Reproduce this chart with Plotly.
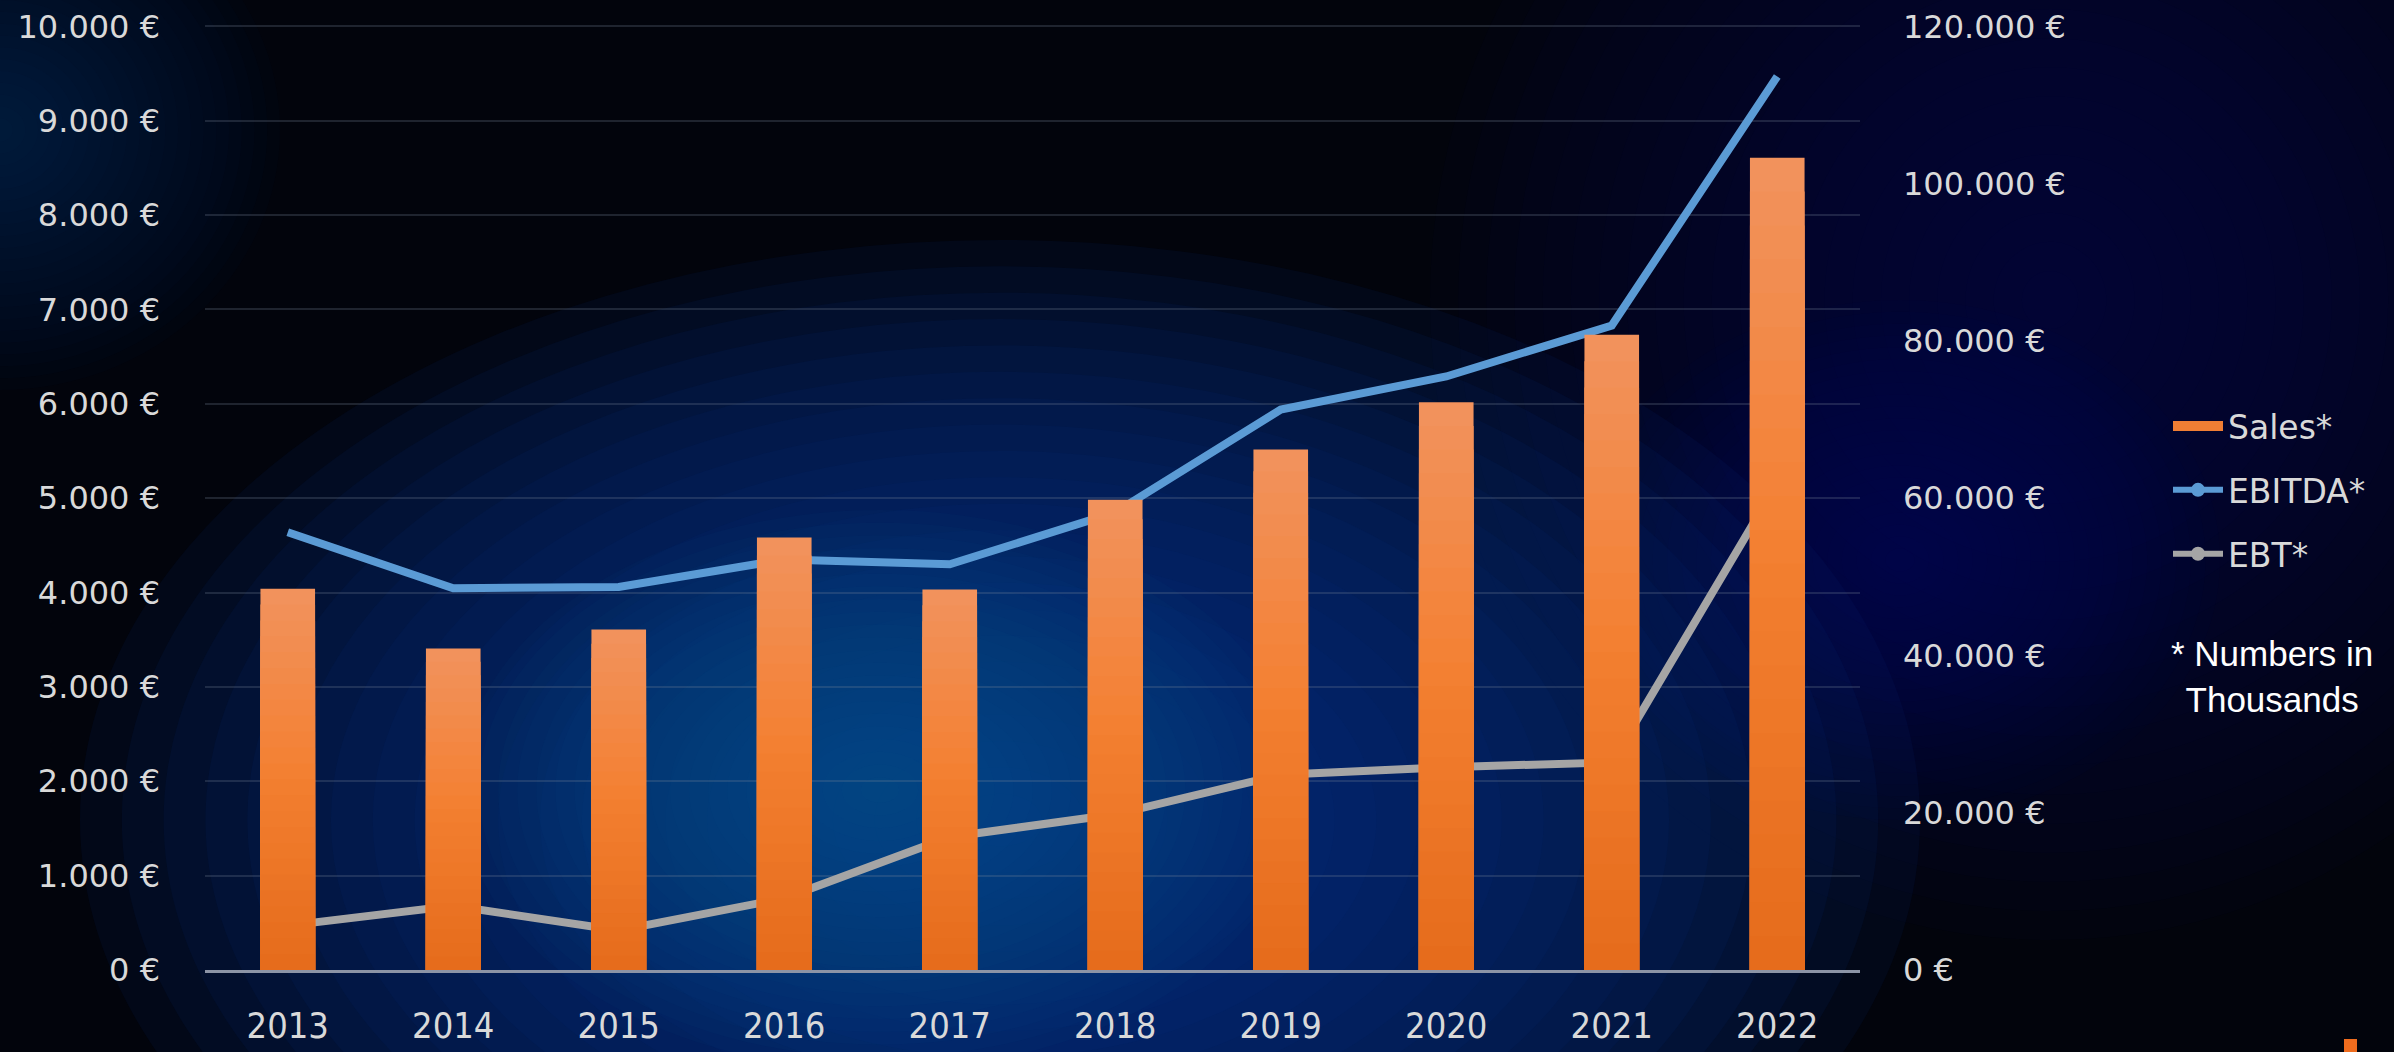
import plotly.graph_objects as go

years = ["2013", "2014", "2015", "2016", "2017", "2018", "2019", "2020", "2021", "2022"]
sales = [48500, 40900, 43300, 55000, 48400, 59800, 66200, 72200, 80800, 103300]
ebitda = [4640, 4045, 4060, 4350, 4300, 4850, 5940, 6290, 6830, 9470]
ebt = [470, 680, 420, 760, 1410, 1650, 2070, 2150, 2200, 5160]

left_ticks = [0, 1000, 2000, 3000, 4000, 5000, 6000, 7000, 8000, 9000, 10000]
left_labels = ["0 €", "1.000 €", "2.000 €", "3.000 €", "4.000 €", "5.000 €",
               "6.000 €", "7.000 €", "8.000 €", "9.000 €", "10.000 €"]
right_ticks = [0, 20000, 40000, 60000, 80000, 100000, 120000]
right_labels = ["0 €", "20.000 €", "40.000 €", "60.000 €", "80.000 €", "100.000 €", "120.000 €"]

W, H = 2394, 1052
ML, MR, MT, MB = 205, 534, 25, 82
PW, PH = W - ML - MR, H - MT - MB


def px_x(x):
    return (x - ML) / PW


def px_y(y):
    return (H - MB - y) / PH


def lerp_color(c1, c2, t):
    a = [int(c1[i:i + 2], 16) for i in (1, 3, 5)]
    b = [int(c2[i:i + 2], 16) for i in (1, 3, 5)]
    return "#%02x%02x%02x" % tuple(round(a[i] + (b[i] - a[i]) * t) for i in range(3))


def bar_color(f):
    # f = 0 bottom, 1 top
    if f < 0.5:
        return lerp_color("#E56B1B", "#F37F30", f / 0.5)
    return lerp_color("#F37F30", "#F2935E", (f - 0.5) / 0.5)


fig = go.Figure()

# Sales bars drawn as overlaid steps to emulate a vertical gradient
N = 24
for k in range(N, 0, -1):
    f = k / N
    fig.add_trace(go.Bar(
        x=years, y=[v * f for v in sales], yaxis="y2", width=0.33,
        marker=dict(color=bar_color(f - 0.5 / N), line=dict(width=0)),
        showlegend=False, hoverinfo="skip" if k < N else None,
        name="Sales*",
    ))

fig.add_trace(go.Scatter(
    x=years, y=ebitda, mode="lines", name="EBITDA*", showlegend=False,
    line=dict(color="#5B9BD5", width=8),
))
fig.add_trace(go.Scatter(
    x=years, y=ebt, mode="lines", name="EBT*", showlegend=False,
    line=dict(color="#A5A5A5", width=8),
))

# legend entries
fig.add_trace(go.Scatter(
    x=[None], y=[None], mode="lines", name="Sales*",
    line=dict(color="#F07E34", width=18), legendgroup="a",
))
fig.add_trace(go.Scatter(
    x=[None], y=[None], mode="lines+markers", name="EBITDA*",
    line=dict(color="#5B9BD5", width=6), marker=dict(color="#5B9BD5", size=14),
    legendgroup="b",
))
fig.add_trace(go.Scatter(
    x=[None], y=[None], mode="lines+markers", name="EBT*",
    line=dict(color="#A5A5A5", width=6), marker=dict(color="#A5A5A5", size=14),
    legendgroup="c",
))

# soft background glows (center x, center y, radius x, radius y in px, colour, peak alpha)
shapes = []
glows = [
    (2050, 300, 620, 640, "#0b1f52", 0.65),
    (1900, 560, 320, 260, "#0b2866", 0.55),
    (0, 130, 280, 260, "#0c2a68", 0.6),
    (1000, 820, 920, 580, "#08307c", 0.92),
    (880, 790, 420, 280, "#0d5e8c", 0.7),
]
n = 22
for cx, cy, rx, ry, col, alpha in glows:
    a = 1 - (1 - alpha) ** (1 / n)
    for i in range(n):
        s = 1 - i / n
        shapes.append(dict(
            type="circle", xref="paper", yref="paper",
            x0=px_x(cx - rx * s), x1=px_x(cx + rx * s),
            y0=px_y(cy + ry * s), y1=px_y(cy - ry * s),
            fillcolor=col, opacity=a, line=dict(width=0), layer="below",
        ))
# small orange mark in the corner
shapes.append(dict(type="rect", xref="paper", yref="paper",
                   x0=px_x(2344), x1=px_x(2357), y0=px_y(1052), y1=px_y(1039),
                   fillcolor="#EF6C1E", line=dict(width=0), layer="above"))

top_left = 10015
fig.update_layout(
    width=W, height=H,
    margin=dict(l=ML, r=MR, t=MT, b=MB, autoexpand=False),
    paper_bgcolor="#02040c",
    plot_bgcolor="rgba(0,0,0,0)",
    font=dict(family="DejaVu Sans", color="#D9D9D9", size=32),
    showlegend=True,
    barmode="overlay",
    shapes=shapes,
    xaxis=dict(
        type="category", showgrid=False, showline=True, linecolor="#8C94A6", linewidth=3,
        ticks="", tickfont=dict(family="DejaVu Sans Condensed", size=36, color="#D9D9D9"),
        ticklabelstandoff=22, zeroline=False, automargin=False,
    ),
    yaxis=dict(
        range=[0, top_left], tickvals=left_ticks, ticktext=left_labels,
        showgrid=True, gridcolor="rgba(120,130,150,0.25)", gridwidth=2,
        zeroline=False, showline=False, ticks="", ticklabelstandoff=44, automargin=False,
        tickfont=dict(family="DejaVu Sans", size=32, color="#D9D9D9"),
    ),
    yaxis2=dict(
        range=[0, top_left * 12], tickvals=right_ticks, ticktext=right_labels,
        overlaying="y", side="right", showgrid=False, zeroline=False, showline=False,
        ticks="", ticklabelstandoff=42, automargin=False,
        tickfont=dict(family="DejaVu Sans", size=32, color="#D9D9D9"),
    ),
    legend=dict(
        x=px_x(2168), y=px_y(398),
        xanchor="left", yanchor="top", bgcolor="rgba(0,0,0,0)",
        font=dict(family="DejaVu Sans", size=33, color="#D9D9D9"),
        traceorder="grouped", tracegroupgap=18, itemwidth=50,
    ),
    annotations=[dict(
        text="* Numbers in<br>Thousands", xref="paper", yref="paper",
        x=px_x(2272), y=px_y(677),
        xanchor="center", yanchor="middle", showarrow=False, align="center",
        font=dict(family="Liberation Sans", size=35, color="#FFFFFF"),
    )],
)

fig.write_html(
    "out.html",
    config={"displayModeBar": False},
    post_script="document.body.style.margin='0px';document.body.style.background='#02040c';",
)
